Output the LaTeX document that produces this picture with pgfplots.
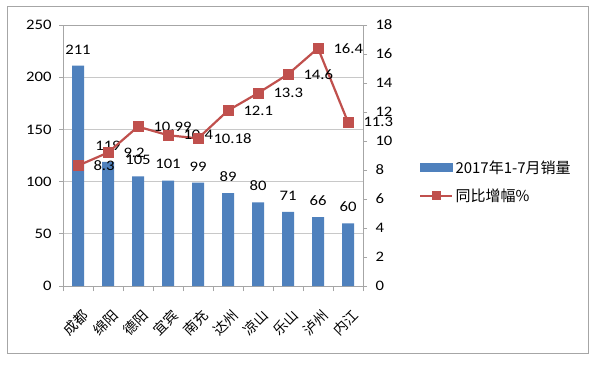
\documentclass[border=0pt]{standalone}
\usepackage{pgfplots}
\pgfplotsset{compat=1.18}
\usepackage{fontspec}
\setmainfont{Carlito}[FakeStretch=1.15]
\newfontfamily\cjk{Noto Sans CJK SC}
\definecolor{barblue}{HTML}{4F81BD}
\definecolor{linered}{HTML}{C0504D}
\definecolor{axgray}{HTML}{A6A6A6}
\definecolor{gridgray}{HTML}{C8C8C8}
\pgfplotsset{
  longline legend/.style={legend image code/.code={%
    \draw[mark repeat=2, mark phase=2, ##1, mark size=4pt] plot coordinates {(0pt,0pt) (16pt,0pt) (32pt,0pt)};}},
  bar legend/.style={legend image code/.code={\fill[barblue] (0pt,-4pt) rectangle (32pt,4pt);}},
}
\pgfplotstableread{
x y label
0 211 211
1 119 119
2 105 105
3 101 101
4 99 99
5 89 89
6 80 80
7 71 71
8 66 66
9 60 60
}\bardata
\pgfplotstableread{
x y label
0 8.3 8.3
1 9.2 9.2
2 10.99 10.99
3 10.4 10.4
4 10.18 10.18
5 12.1 12.1
6 13.3 13.3
7 14.6 14.6
8 16.4 16.4
9 11.3 11.3
}\linedata
\begin{document}
\begin{tikzpicture}
\path[use as bounding box] (0,0) rectangle (600pt,365pt);
\fill[white] (0,0) rectangle (600pt,365pt);
\draw[axgray, line width=0.9pt] (7pt,12pt) rectangle (588pt,359pt);
\begin{axis}[
  at={(63pt,79pt)}, anchor=south west, scale only axis,
  width=300pt, height=261pt,
  xmin=-0.5, xmax=9.5, ymin=0, ymax=250,
  ytick={0,50,...,250},
  ymajorgrids, grid style={gridgray, line width=0.8pt},
  axis line style={axgray, line width=0.8pt},
  tick style={axgray, line width=0.8pt},
  tick align=outside, major tick length=4pt, minor tick length=5pt,
  ytick pos=left, xtick pos=bottom,
  xtick={0,...,9},
  xticklabels={成都,绵阳,德阳,宜宾,南充,达州,凉山,乐山,泸州,内江},
  major x tick style={draw=none},
  minor xtick={-0.5,0.5,...,9.5},
  xticklabel style={font=\cjk\fontsize{14}{14}\selectfont, rotate=45, anchor=north east, xshift=-11pt, yshift=-15pt, inner sep=0pt},
  yticklabel style={font=\fontsize{14.5}{15}\selectfont, xshift=-4pt},
  /pgf/number format/assume math mode=true,
  clip=false,
]
\addplot[ybar, bar width=12pt, fill=barblue, draw=none,
  point meta=explicit symbolic, nodes near coords,
  nodes near coords style={font=\fontsize{14.5}{15}\selectfont, text=black, anchor=south, yshift=8pt}]
  table[x=x, y=y, meta=label] {\bardata};
\end{axis}
\begin{axis}[
  at={(63pt,79pt)}, anchor=south west, scale only axis,
  width=300pt, height=261pt,
  xmin=-0.5, xmax=9.5, ymin=0, ymax=18,
  ytick={0,2,...,18},
  axis x line=none, axis y line*=right,
  axis line style={axgray, line width=0.8pt, -},
  tick style={axgray, line width=0.8pt},
  tick align=outside, major tick length=4pt,
  yticklabel style={font=\fontsize{14.5}{15}\selectfont, xshift=5pt},
  /pgf/number format/assume math mode=true,
  clip=false,
  legend style={at={(1.187,0.40)}, anchor=west, draw=none, fill=none,
    font=\cjk\fontsize{15}{15}\selectfont, row sep=10pt, inner sep=0pt,
    cells={anchor=west}},
]
\addlegendimage{bar legend}
\addlegendentry{2017年1-7月销量}
\addplot[linered, line width=2.2pt, mark=square*, mark size=5pt,
  mark options={fill=linered, draw=linered, line width=0.4pt},
  longline legend,
  point meta=explicit symbolic, nodes near coords,
  nodes near coords style={font=\fontsize{14.5}{15}\selectfont, text=black, anchor=west, xshift=12pt}]
  table[x=x, y=y, meta=label] {\linedata};
\addlegendentry{同比增幅\%}
\end{axis}
\end{tikzpicture}
\end{document}
